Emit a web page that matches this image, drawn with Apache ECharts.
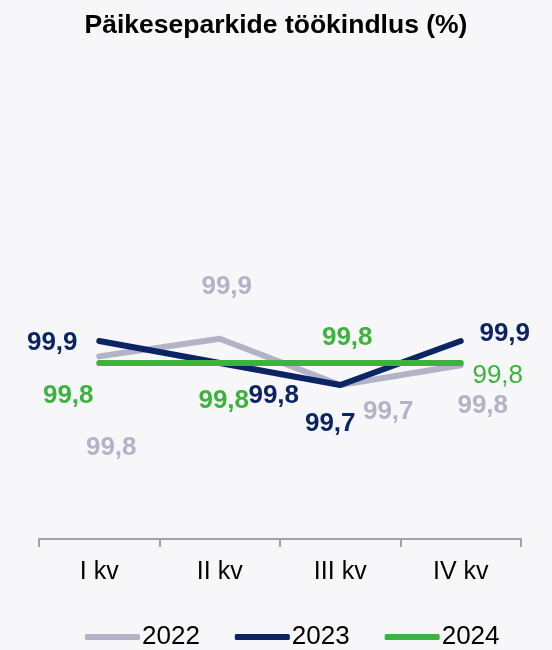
<!DOCTYPE html>
<html>
<head>
<meta charset="utf-8">
<script src="https://cdn.jsdelivr.net/npm/echarts@6/dist/echarts.min.js"></script>
<style>
  html, body { margin: 0; padding: 0; background: #f7f7f9; }
  #chart { width: 552px; height: 650px; }
</style>
</head>
<body>
<div id="chart"></div>
<script>
// Quarterly availability of solar parks, %
const quarters = ['I kv', 'II kv', 'III kv', 'IV kv'];
const values2022 = [99.83, 99.91, 99.70, 99.79];
const values2023 = [99.9, 99.8, 99.7, 99.9];
const values2024 = [99.8, 99.8, 99.8, 99.8];
const seriesNames = ['2022', '2023', '2024'];

const colors = ['#b3b3c7', '#0b2463', '#3cb33c'];

// Hand-placed label offsets (px from the point) so labels don't collide
const labelOffsets = [
  [[12, 91], [7, -52], [48, 27], [22, 41]],
  [[-47, 2], [54, 33], [-10, 39], [44, -7]],
  [[-31, 33], [4, 38], [7, -25], [37, 13]]
];

const fmt = v => v.toFixed(1).replace('.', ',');

function buildSeries(idx, values) {
  return {
    name: seriesNames[idx],
    type: 'line',
    data: values.map((v, i) => ({
      value: v,
      label: {
        offset: labelOffsets[idx][i],
        fontWeight: (idx === 2 && i === 3) ? 'normal' : 'bold'
      }
    })),
    symbol: 'circle',
    symbolSize: 1,
    itemStyle: { color: colors[idx] },
    lineStyle: { color: colors[idx], width: 6, cap: 'round', join: 'round' },
    label: {
      show: true,
      position: 'inside',
      align: 'center',
      verticalAlign: 'middle',
      color: colors[idx],
      fontFamily: 'Liberation Sans, Arial, sans-serif',
      fontSize: 26,
      formatter: p => fmt(p.value)
    },
    emphasis: { disabled: true },
    z: 2 + idx
  };
}

const chart = echarts.init(document.getElementById('chart'), null, { renderer: 'canvas' });
chart.setOption({
  backgroundColor: '#f7f7f9',
  animation: false,
  title: {
    text: 'Päikeseparkide töökindlus (%)',
    left: 'center',
    top: 7,
    textStyle: {
      fontFamily: 'Liberation Sans, Arial, sans-serif',
      fontWeight: 'bold',
      fontSize: 26.5,
      color: '#000'
    }
  },
  grid: { left: 39, right: 31, top: 319, bottom: 111 },
  xAxis: {
    type: 'category',
    data: quarters,
    boundaryGap: true,
    axisLine: { lineStyle: { color: '#a0a0ae', width: 2 } },
    axisTick: { show: true, length: 8, lineStyle: { color: '#a0a0ae', width: 2 } },
    axisLabel: {
      color: '#000',
      fontFamily: 'Liberation Sans, Arial, sans-serif',
      fontSize: 25,
      margin: 21
    }
  },
  yAxis: {
    type: 'value',
    min: 99,
    max: 100,
    show: false
  },
  legend: {
    top: 619,
    left: 80,
    itemWidth: 55,
    itemHeight: 6,
    itemGap: 35,
    icon: 'roundRect',
    textStyle: {
      color: '#000',
      fontFamily: 'Liberation Sans, Arial, sans-serif',
      fontSize: 26,
      padding: [0, 0, 0, -3]
    },
    data: seriesNames
  },
  series: [
    buildSeries(0, values2022),
    buildSeries(1, values2023),
    buildSeries(2, values2024)
  ]
});
</script>
</body>
</html>
